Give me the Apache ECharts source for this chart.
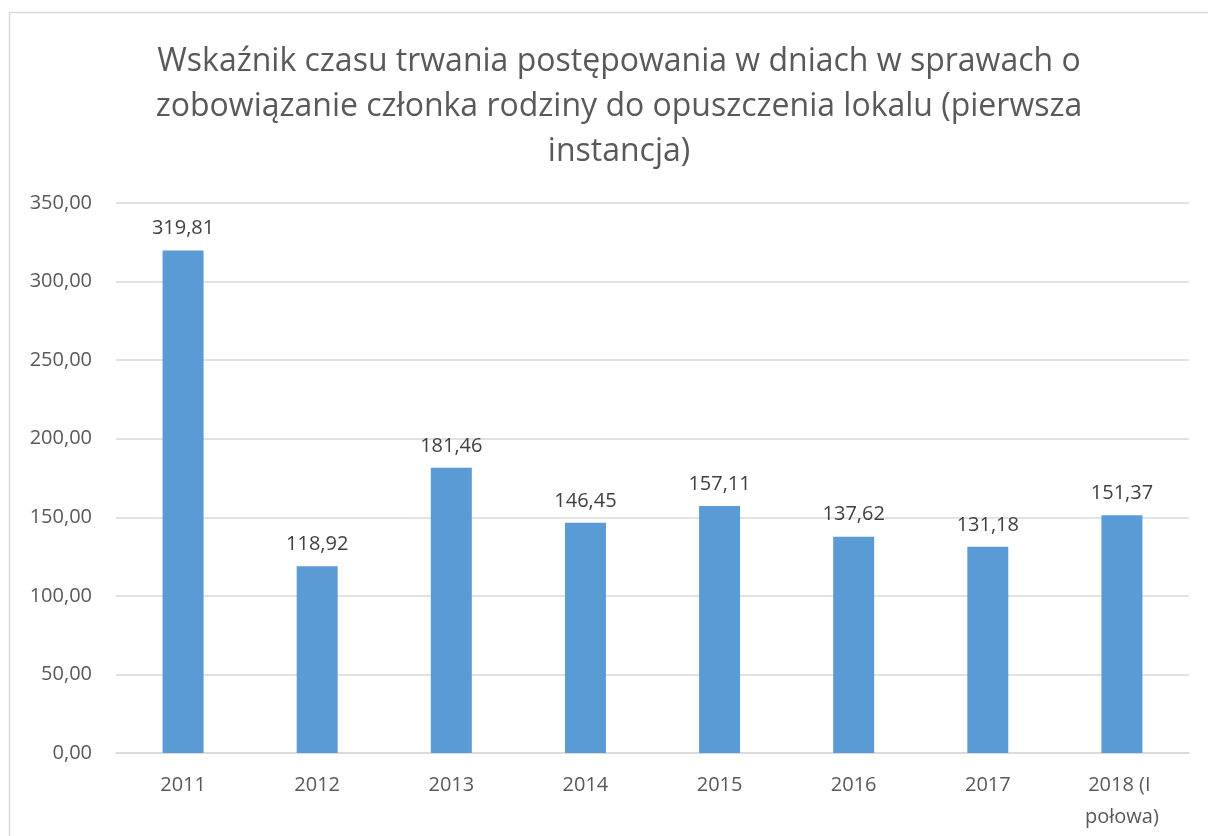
<!DOCTYPE html>
<html>
<head>
<meta charset="utf-8">
<script src="https://cdn.jsdelivr.net/npm/echarts@6/dist/echarts.min.js"></script>
<style>
  html, body { margin: 0; padding: 0; background: #fff; }
  #chart { width: 1208px; height: 836px; }
</style>
</head>
<body>
<div id="chart"></div>
<script>
// data
var years = ['2011', '2012', '2013', '2014', '2015', '2016', '2017', '2018 (I połowa)'];
var values = [319.81, 118.92, 181.46, 146.45, 157.11, 137.62, 131.18, 151.37];
var titleText = 'Wskaźnik czasu trwania postępowania w dniach w sprawach o\nzobowiązanie członka rodziny do opuszczenia lokalu (pierwsza\ninstancja)';

function pl(v) {
	return v.toFixed(2).replace('.', ',');
}

var myChart = echarts.init(document.getElementById('chart'));
var option = {
	backgroundColor: '#fff',
	animation: false,
	textStyle: { fontFamily: 'Open Sans' },
	graphic: [{
		type: 'rect',
		shape: { x: 9.5, y: 12.5, width: 1300, height: 900 },
		style: { fill: 'none', stroke: '#d9d9d9', lineWidth: 1.5 },
		silent: true
	}],
	title: {
		text: titleText,
		left: 614,
		textAlign: 'center',
		top: 34,
		textStyle: {
			color: '#595959',
			fontSize: 32,
			fontWeight: 'normal',
			lineHeight: 45,
			fontFamily: 'Open Sans'
		}
	},
	grid: {
		left: 116,
		right: 19,
		top: 203,
		bottom: 83,
		containLabel: false
	},
	xAxis: {
		type: 'category',
		data: years,
		axisLine: { lineStyle: { color: '#d9d9d9', width: 1.5 } },
		axisTick: { show: false },
		axisLabel: {
			color: '#595959',
			fontSize: 20,
			margin: 16,
			lineHeight: 32,
			width: 100,
			overflow: 'break',
			interval: 0
		}
	},
	yAxis: {
		type: 'value',
		min: 0,
		max: 350,
		interval: 50,
		axisLine: { show: false },
		axisTick: { show: false },
		splitLine: { lineStyle: { color: '#d9d9d9', width: 1.5 } },
		axisLabel: {
			color: '#595959',
			fontSize: 20,
			margin: 24,
			formatter: function(v) { return pl(v); }
		}
	},
	series: [{
		type: 'bar',
		data: values,
		barWidth: 41,
		itemStyle: { color: '#5b9bd5' },
		label: {
			show: true,
			position: 'top',
			distance: 12,
			color: '#404040',
			fontSize: 20,
			formatter: function(p) { return pl(p.value); }
		}
	}]
};
myChart.setOption(option);
</script>
</body>
</html>
